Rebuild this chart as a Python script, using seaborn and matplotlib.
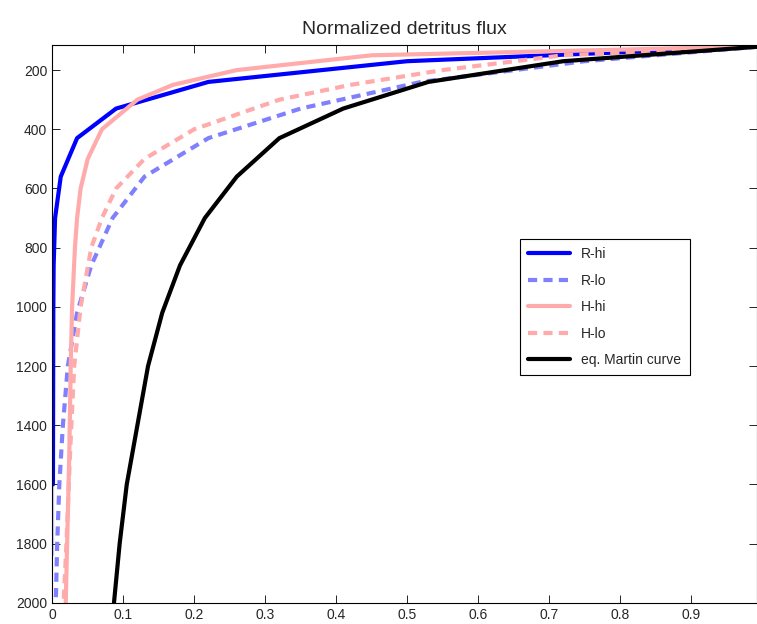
import matplotlib
matplotlib.use("Agg")
import matplotlib.pyplot as plt
import seaborn as sns

# depth levels (m) and normalized flux for each run
z_r = [120, 170, 240, 330, 430, 560, 700, 860, 1020, 1200, 1400, 1600, 1800, 2000]
r_hi = [1.0, 0.5, 0.22, 0.09, 0.035, 0.012, 0.004, 0.002, 0.0015, 0.001, 0.001, 0.001, 0.001, 0.001]
r_lo = [1.0, 0.75, 0.52, 0.35, 0.22, 0.13, 0.085, 0.055, 0.035, 0.022, 0.015, 0.01, 0.007, 0.005]
martin = [1.0, 0.72, 0.53, 0.41, 0.32, 0.26, 0.215, 0.18, 0.155, 0.135, 0.12, 0.105, 0.095, 0.087]

z_h = [120, 150, 200, 250, 300, 400, 500, 600, 700, 800, 1000, 1200, 1500, 1800, 2000]
h_hi = [1.0, 0.45, 0.26, 0.17, 0.12, 0.07, 0.05, 0.04, 0.035, 0.032, 0.028, 0.026, 0.024, 0.021, 0.019]
h_lo = [1.0, 0.72, 0.55, 0.42, 0.32, 0.2, 0.13, 0.09, 0.07, 0.055, 0.04, 0.031, 0.025, 0.02, 0.016]

sns.set_style("ticks")
plt.rcParams['font.family'] = ['Liberation Sans', 'DejaVu Sans']

fig = plt.figure(figsize=(7.57, 6.24), dpi=100)
ax = fig.add_axes([0.069, 0.034, 0.931, 0.894])

series = [
    ("R-hi", z_r, r_hi, (0, 0, 1), "-"),
    ("R-lo", z_r, r_lo, (0.5, 0.5, 1), (0, (2.2, 1.5))),
    ("H-hi", z_h, h_hi, (1, 0.67, 0.67), "-"),
    ("H-lo", z_h, h_lo, (1, 0.67, 0.67), (0, (2.2, 1.5))),
    ("eq. Martin curve", z_r, martin, (0, 0, 0), "-"),
]
for name, z, f, c, ls in series:
    sns.lineplot(x=f, y=z, sort=False, ax=ax, color=c,
                 linewidth=3, label=name)
    ax.lines[-1].set_linestyle(ls)

ax.set_xlim(0, 0.993)
ax.set_ylim(2000, 115)
ax.set_xticks([0, 0.1, 0.2, 0.3, 0.4, 0.5, 0.6, 0.7, 0.8, 0.9])
ax.set_xticklabels(["0", "0.1", "0.2", "0.3", "0.4", "0.5", "0.6", "0.7", "0.8", "0.9"])
ax.set_yticks(range(200, 2001, 200))
ax.tick_params(direction="in", length=6, width=0.6, labelsize=10,
               top=True, right=True, color="black")
for s in ax.spines.values():
    s.set_visible(True)
    s.set_color("black")
    s.set_linewidth(0.8)
ax.set_title("Normalized detritus flux", fontsize=14, pad=8)

leg = ax.legend(loc="upper left", bbox_to_anchor=(0.654, 0.665), fontsize=10,
                fancybox=False, framealpha=1, edgecolor="black",
                handlelength=3, labelspacing=0.9, borderpad=0.6)
for line in leg.get_lines():
    line.set_linewidth(3)
leg.get_frame().set_linewidth(0.8)

fig.savefig("out.png", dpi=100)
